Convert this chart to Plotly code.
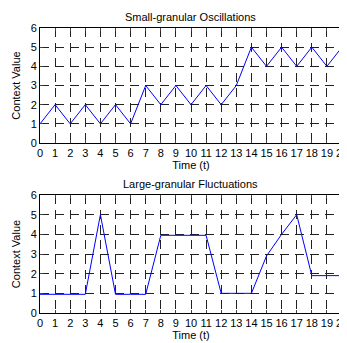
import plotly.graph_objects as go
from plotly.subplots import make_subplots

t = list(range(21))
small_vals = [1, 2, 1, 2, 1, 2, 1, 3, 2, 3, 2, 3, 2, 3, 5, 4, 5, 4, 5, 4, 5]
large_vals = [0.95, 0.95, 0.95, 0.95, 5, 0.95, 0.95, 0.95, 3.95, 3.95, 3.95, 3.95,
              1, 1, 1, 2.9, 4, 5, 1.9, 1.9, 1.9]
titles = ["Small-granular Oscillations", "Large-granular Fluctuations"]
x_ticks = list(range(21))
y_ticks = list(range(7))

# page is 347x343; the body margin offsets the figure by 8px
OFF = 8
W, H = 347 - OFF, 343 - OFF
fig = make_subplots(rows=2, cols=1)
fig.add_trace(go.Scatter(x=t, y=small_vals, mode="lines",
                         line=dict(color="#0000ff", width=1), showlegend=False), row=1, col=1)
fig.add_trace(go.Scatter(x=t, y=large_vals, mode="lines",
                         line=dict(color="#0000ff", width=1), showlegend=False), row=2, col=1)


def px(xp):
    return (xp - OFF) / W


def py(yp):
    return (343 - yp) / H


x0, x1 = px(40), px(342)
doms = [(py(143), py(28)), (py(313), py(195))]
font = dict(family="Liberation Sans, Arial, sans-serif", size=11, color="black")

for i, (d0, d1) in enumerate(doms, start=1):
    fig.update_xaxes(row=i, col=1, domain=[x0, x1], range=[0, 20], tickvals=x_ticks,
                     ticktext=[str(v) for v in x_ticks], ticks="inside", ticklen=3,
                     showline=True, linecolor="black", linewidth=1, mirror="ticks",
                     showgrid=True, gridcolor="#222222", gridwidth=1, griddash="9px,6px",
                     zeroline=False, tickfont=font, automargin=False,
                     ticklabeloverflow="allow",
                     title=dict(text="Time (t)", font=font, standoff=2))
    fig.update_yaxes(row=i, col=1, domain=[d0, d1], range=[0, 6], tickvals=y_ticks,
                     ticktext=[str(v) for v in y_ticks], ticks="inside", ticklen=3,
                     showline=True, linecolor="black", linewidth=1, mirror="ticks",
                     showgrid=True, gridcolor="#222222", gridwidth=1, griddash="9px,6px",
                     zeroline=False, tickfont=font, automargin=False,
                     title=dict(text="Context Value", font=font, standoff=7))
    fig.add_annotation(text=titles[i - 1], xref="paper", yref="paper",
                       x=(x0 + x1) / 2, y=d1, yanchor="bottom", yshift=3,
                       showarrow=False, font=dict(family=font["family"], size=11, color="black"))

fig.update_layout(width=W, height=H, margin=dict(l=0, r=0, t=0, b=0),
                  paper_bgcolor="white", plot_bgcolor="white")
fig.write_html("out.html")
